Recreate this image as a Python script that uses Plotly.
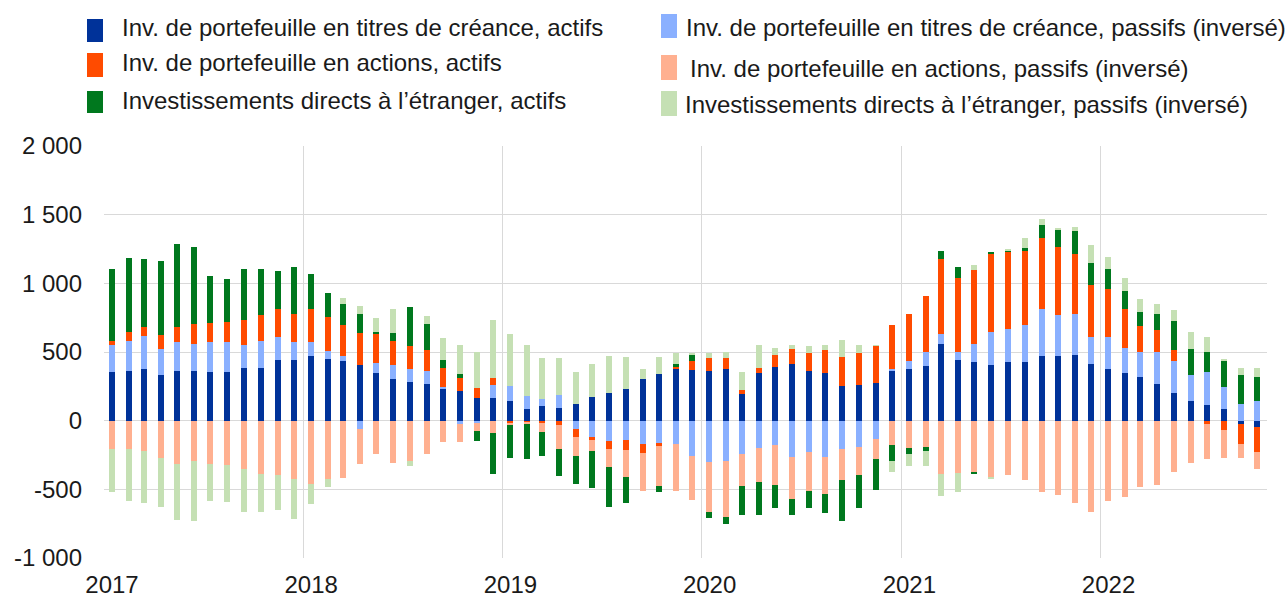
import plotly.graph_objects as go

# ---------------- data (EUR bn, 12-month sums) ----------------
months = [f"{y}-{m:02d}-15" for y in range(2017, 2023) for m in range(1, 13)][:70]

debt_assets = [356, 365, 375, 329, 365, 365, 356, 356, 385, 385, 440, 440,
               471, 452, 433, 406, 347, 304, 282, 267, 228, 216, 163, 163,
               144, 88, 105, 95, 122, 171, 200, 227, 303, 339, 378, 368,
               365, 374, 197, 345, 391, 411, 365, 345, 253, 262, 272, 365,
               379, 399, 556, 445, 425, 408, 425, 425, 474, 474, 481, 416,
               375, 346, 319, 264, 198, 143, 114, 87, -26, -43]
debt_liab_inv = [196, 216, 242, 196, 206, 196, 215, 215, 167, 196, 167, 131,
                 102, 58, 38, -61, 76, 102, 97, 93, 17, -24, -15, 99,
                 112, 95, 56, 95, -63, -120, -149, -139, -168, -159, -168, -254,
                 -299, -292, -243, -197, -180, -262, -226, -262, -207, -190, -134, 10,
                 56, 102, 73, 56, 131, 241, 243, 270, 342, 296, 299, 194,
                 232, 186, 184, 239, 233, 193, 242, 157, 123, 143]
equity_assets = [29, 65, 65, 102, 111, 141, 140, 150, 179, 186, 206, 206,
                 243, 243, 224, 233, 206, 177, 165, 158, 141, 95, 75, 49,
                 -17, -15, -20, -34, -57, -24, -56, -76, -66, -29, 15, 66,
                 94, 85, 27, 37, 88, 111, 131, 168, 214, 234, 272, 318,
                 345, 410, 545, 541, 542, 564, 562, 544, 516, 496, 433, 377,
                 354, 279, 189, 160, 82, 0, -26, -65, -146, -184]
equity_liab_inv = [-203, -203, -220, -269, -317, -295, -317, -324, -351, -390, -399, -426,
                   -463, -423, -418, -258, -246, -311, -294, -246, -153, -129, -58, -88,
                   -14, -10, -63, -171, -136, -78, -132, -197, -278, -288, -344, -324,
                   -367, -413, -233, -253, -287, -309, -289, -273, -226, -204, -148, -180,
                   -202, -190, -391, -379, -379, -411, -399, -435, -520, -539, -603, -662,
                   -586, -559, -485, -466, -375, -311, -256, -207, -100, -127]
fdi_assets = [520, 540, 494, 539, 605, 559, 344, 307, 370, 334, 278, 343,
              252, 175, 151, 141, 20, 56, 282, 187, 56, 29, -74, -297,
              -244, -253, -173, -195, -208, -271, -288, -188, 0, -46, 17, 49,
              -46, -51, -214, -240, -167, -119, -119, -138, -296, -240, -223, -112,
              -39, -31, 65, 76, -10, 17, 9, 20, 94, 124, 167, 158,
              140, 130, 102, 111, 215, 187, 147, 194, 206, 176]
fdi_liab_inv = [-315, -380, -383, -360, -404, -438, -266, -269, -317, -278, -250, -288,
                -146, -60, 46, 53, 102, 177, -36, 56, 158, 212, 260, 423,
                378, 366, 293, 264, 229, 244, 271, 234, 73, 122, 85, 8,
                32, 44, 128, 170, 53, 30, 46, 39, 121, 56, 5, -80,
                -89, -109, -156, -141, 39, -7, 10, 68, 39, 7, 27, 133,
                92, 95, 92, 75, 75, 121, 104, 10, 56, 66]

series_names = [
    "Inv. de portefeuille en titres de créance, actifs",
    "Inv. de portefeuille en titres de créance, passifs (inversé)",
    "Inv. de portefeuille en actions, actifs",
    "Inv. de portefeuille en actions, passifs (inversé)",
    "Investissements directs à l’étranger, actifs",
    "Investissements directs à l’étranger, passifs (inversé)",
]
series_values = [debt_assets, debt_liab_inv, equity_assets, equity_liab_inv, fdi_assets, fdi_liab_inv]
series_colors = ["#003299", "#8AB0FF", "#FF4B00", "#FFB090", "#00781E", "#C5E0B4"]

y_tickvals = [-1000, -500, 0, 500, 1000, 1500, 2000]
y_ticktext = ["-1 000", "-500", "0", "500", "1 000", "1 500", "2 000"]
x_tickvals = [f"{y}-01-01" for y in range(2017, 2023)]
x_ticktext = [str(y) for y in range(2017, 2023)]

# ---------------- layout geometry (px) ----------------
W, H = 1288, 598
L, R, T, B = 104, 1267, 146, 558
FONT = "Liberation Sans, Arial, sans-serif"
DAY_MS = 86400000

fig = go.Figure()
for name, vals, col in zip(series_names, series_values, series_colors):
    fig.add_trace(go.Bar(x=months, y=vals, name=name, marker=dict(color=col, line=dict(width=0)),
                         width=11 * DAY_MS, showlegend=False))


def px_x(px):
    return (px - L) / (R - L)


def px_y(py):
    return (B - py) / (B - T)


# manual legend (two columns)
legend_items = [
    # (series index, marker x0, x1, y0, y1, text x, text y)
    (0, 87, 103, 19, 42, 121, 27),
    (2, 87, 103, 53, 77, 121, 62),
    (4, 87, 103, 91, 113, 121, 100),
    (1, 661, 677, 14, 38, 685, 27),
    (3, 661, 677, 55, 80, 689, 68),
    (5, 661, 677, 91, 116, 684, 104),
]
shapes = []
annotations = []
for idx, x0, x1, y0, y1, tx, ty in legend_items:
    shapes.append(dict(type="rect", xref="paper", yref="paper",
                       x0=px_x(x0), x1=px_x(x1), y0=px_y(y1), y1=px_y(y0),
                       fillcolor=series_colors[idx], line=dict(width=0)))
    annotations.append(dict(xref="paper", yref="paper", x=px_x(tx), y=px_y(ty),
                            xanchor="left", yanchor="middle", showarrow=False, borderpad=0,
                            text=series_names[idx], font=dict(size=24, color="#1a1a1a", family=FONT)))

fig.update_layout(
    width=W, height=H,
    margin=dict(l=L, r=W - R, t=T, b=H - B, pad=0, autoexpand=False),
    barmode="relative",
    bargap=0,
    plot_bgcolor="white", paper_bgcolor="white",
    font=dict(family=FONT, size=24, color="#1a1a1a"),
    shapes=shapes, annotations=annotations,
    xaxis=dict(type="date", range=["2017-01-01", "2022-11-02"], automargin=False,
               tickmode="array", tickvals=x_tickvals, ticktext=x_ticktext,
               showgrid=True, gridcolor="#d9d9d9", gridwidth=1.3,
               ticks="", ticklabelshift=8, ticklabelstandoff=10,
               showline=False, zeroline=False, tickfont=dict(size=24)),
    yaxis=dict(range=[-1000, 2000], automargin=False,
               tickmode="array", tickvals=y_tickvals, ticktext=y_ticktext,
               showgrid=True, gridcolor="#d9d9d9", gridwidth=1.3,
               zeroline=True, zerolinecolor="#d9d9d9", zerolinewidth=1.3,
               ticks="", ticklabelstandoff=21, showline=False, tickfont=dict(size=24)),
)

fig.write_html("out.html", config={"displayModeBar": False},
               post_script="document.body.style.margin='0';document.body.style.overflow='hidden';")
